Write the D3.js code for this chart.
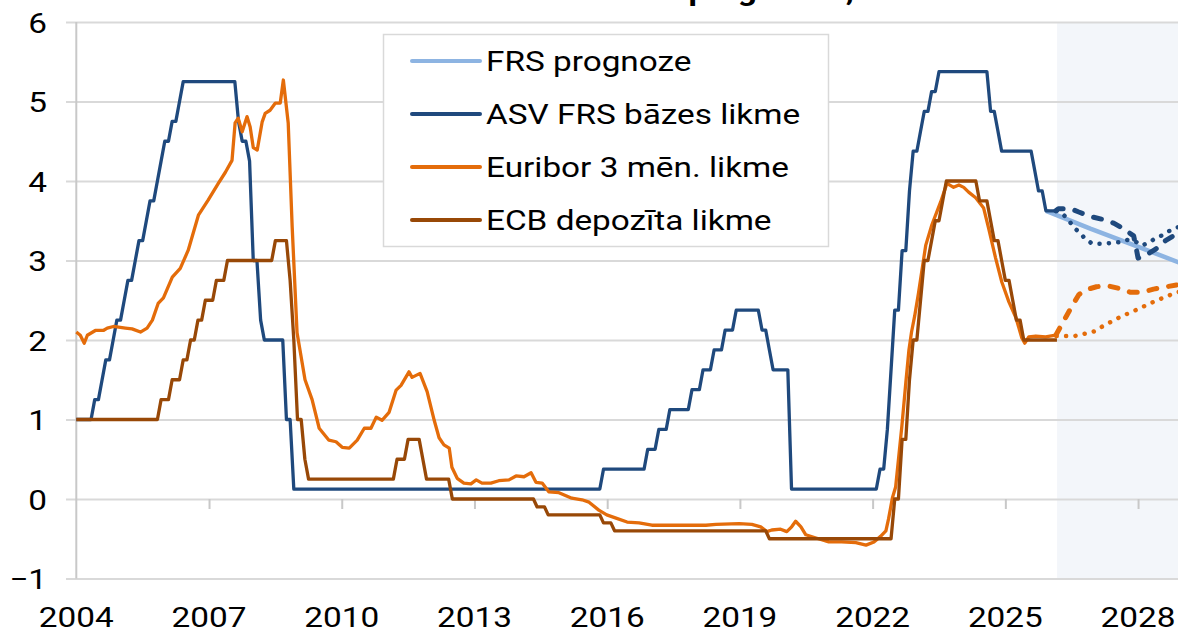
<!DOCTYPE html>
<html>
<head>
<meta charset="utf-8">
<script src="https://cdn.jsdelivr.net/npm/d3@7"></script>
<style>
  body { margin: 0; background: #fff; }
  svg text { font-family: Roboto, "Noto Sans", sans-serif; fill: #000; }
</style>
</head>
<body>
<svg class="graph" width="1178" height="635"></svg>
<script>
// ---- data ----
const yTicks = [-1, 0, 1, 2, 3, 4, 5, 6];
const xTicks = [2004, 2007, 2010, 2013, 2016, 2019, 2022, 2025, 2028];
const titleText = 'Procentu likmes un to prognozes, %';
const forecastStart = 2026.17;

// US Fed target rate (midpoint), month of change -> new level
const fedChanges = [
  ['2004-01', 1.0], ['2004-06', 1.25], ['2004-08', 1.5], ['2004-09', 1.75], ['2004-11', 2.0], ['2004-12', 2.25],
  ['2005-02', 2.5], ['2005-03', 2.75], ['2005-05', 3.0], ['2005-06', 3.25], ['2005-08', 3.5], ['2005-09', 3.75],
  ['2005-11', 4.0], ['2005-12', 4.25], ['2006-01', 4.5], ['2006-03', 4.75], ['2006-05', 5.0], ['2006-06', 5.25],
  ['2007-09', 4.75], ['2007-10', 4.5], ['2007-12', 4.25], ['2008-01', 3.0], ['2008-03', 2.25], ['2008-04', 2.0],
  ['2008-10', 1.0], ['2008-12', 0.125], ['2015-12', 0.375], ['2016-12', 0.625], ['2017-03', 0.875], ['2017-06', 1.125],
  ['2017-12', 1.375], ['2018-03', 1.625], ['2018-06', 1.875], ['2018-09', 2.125], ['2018-12', 2.375], ['2019-07', 2.125],
  ['2019-09', 1.875], ['2019-10', 1.625], ['2020-03', 0.125], ['2022-03', 0.375], ['2022-05', 0.875], ['2022-06', 1.625],
  ['2022-07', 2.375], ['2022-09', 3.125], ['2022-11', 3.875], ['2022-12', 4.375], ['2023-02', 4.625], ['2023-03', 4.875],
  ['2023-05', 5.125], ['2023-07', 5.375], ['2024-09', 4.875], ['2024-11', 4.625], ['2024-12', 4.375], ['2025-09', 4.125],
  ['2025-10', 3.875], ['2025-12', 3.625]
];

// ECB deposit facility rate, month of change -> new level
const ecbChanges = [
  ['2004-01', 1.0], ['2005-12', 1.25], ['2006-03', 1.5], ['2006-06', 1.75], ['2006-08', 2.0], ['2006-10', 2.25],
  ['2006-12', 2.5], ['2007-03', 2.75], ['2007-06', 3.0], ['2008-07', 3.25], ['2008-11', 2.75], ['2008-12', 2.0],
  ['2009-01', 1.0], ['2009-03', 0.5], ['2009-04', 0.25], ['2011-04', 0.5], ['2011-07', 0.75], ['2011-11', 0.5],
  ['2011-12', 0.25], ['2012-07', 0.0], ['2014-06', -0.1], ['2014-09', -0.2], ['2015-12', -0.3], ['2016-03', -0.4],
  ['2019-09', -0.5], ['2022-07', 0.0], ['2022-09', 0.75], ['2022-11', 1.5], ['2022-12', 2.0], ['2023-02', 2.5],
  ['2023-03', 3.0], ['2023-05', 3.25], ['2023-06', 3.5], ['2023-08', 3.75], ['2023-09', 4.0], ['2024-06', 3.75],
  ['2024-09', 3.5], ['2024-10', 3.25], ['2024-12', 3.0], ['2025-01', 2.75], ['2025-03', 2.5], ['2025-04', 2.25],
  ['2025-06', 2.0]
];
const stepEnd = '2026-03';

// Euribor 3M, [year, %]
const euribor = [
  [2004.00, 2.10], [2004.09, 2.06], [2004.18, 1.96], [2004.25, 2.06], [2004.43, 2.12], [2004.61, 2.12], [2004.70, 2.15],
  [2004.84, 2.17], [2005.11, 2.15], [2005.26, 2.14], [2005.45, 2.10], [2005.60, 2.15], [2005.72, 2.25], [2005.85, 2.46],
  [2005.97, 2.53], [2006.17, 2.79], [2006.35, 2.90], [2006.53, 3.13], [2006.76, 3.57], [2006.98, 3.76], [2007.21, 3.97],
  [2007.37, 4.11], [2007.52, 4.26], [2007.59, 4.73], [2007.66, 4.79], [2007.75, 4.62], [2007.86, 4.81], [2007.93, 4.68],
  [2008.00, 4.42], [2008.09, 4.39], [2008.20, 4.74], [2008.27, 4.85], [2008.38, 4.89], [2008.50, 4.98], [2008.61, 4.98],
  [2008.68, 5.27], [2008.79, 4.73], [2008.88, 3.42], [2008.99, 2.09], [2009.17, 1.50], [2009.33, 1.25], [2009.49, 0.89],
  [2009.71, 0.74], [2009.87, 0.72], [2010.01, 0.65], [2010.17, 0.64], [2010.35, 0.74], [2010.51, 0.89], [2010.66, 0.89],
  [2010.78, 1.03], [2010.91, 0.99], [2011.07, 1.09], [2011.23, 1.37], [2011.34, 1.43], [2011.52, 1.60], [2011.59, 1.53],
  [2011.77, 1.58], [2011.93, 1.35], [2012.09, 0.99], [2012.20, 0.77], [2012.31, 0.68], [2012.43, 0.64], [2012.49, 0.40],
  [2012.61, 0.26], [2012.76, 0.20], [2012.92, 0.19], [2013.04, 0.24], [2013.17, 0.20], [2013.37, 0.20], [2013.55, 0.23],
  [2013.78, 0.24], [2013.94, 0.29], [2014.12, 0.28], [2014.28, 0.33], [2014.39, 0.21], [2014.53, 0.20], [2014.68, 0.09],
  [2014.91, 0.08], [2015.20, 0.01], [2015.43, -0.01], [2015.59, -0.04], [2015.81, -0.14], [2015.99, -0.20], [2016.20, -0.24],
  [2016.45, -0.29], [2016.72, -0.30], [2017.01, -0.33], [2018.23, -0.33], [2018.46, -0.32], [2018.98, -0.31], [2019.27, -0.32],
  [2019.47, -0.35], [2019.61, -0.41], [2019.72, -0.39], [2019.92, -0.38], [2020.06, -0.41], [2020.17, -0.35], [2020.26, -0.28],
  [2020.38, -0.35], [2020.49, -0.45], [2020.72, -0.49], [2021.01, -0.54], [2021.30, -0.54], [2021.62, -0.55], [2021.85, -0.58],
  [2022.03, -0.54], [2022.18, -0.47], [2022.30, -0.40], [2022.36, -0.25], [2022.45, 0.02], [2022.52, 0.15], [2022.66, 0.91],
  [2022.75, 1.46], [2022.82, 1.87], [2022.88, 2.10], [2022.95, 2.30], [2023.04, 2.60], [2023.20, 3.19], [2023.34, 3.45],
  [2023.54, 3.74], [2023.68, 3.97], [2023.83, 3.92], [2023.95, 3.95], [2024.06, 3.92], [2024.17, 3.86], [2024.33, 3.79],
  [2024.51, 3.66], [2024.62, 3.41], [2024.78, 3.03], [2024.92, 2.73], [2025.08, 2.48], [2025.24, 2.28], [2025.37, 2.03],
  [2025.44, 1.96], [2025.53, 2.04], [2025.69, 2.05], [2025.91, 2.04], [2026.14, 2.06]
];

// forecasts
const frsForecast = [[2025.92, 3.625], [2026.92, 3.40], [2027.92, 3.19], [2028.95, 2.97]];
const fedDashed = [
  [2026.14, 3.625], [2026.20, 3.65], [2026.48, 3.65], [2026.66, 3.61], [2026.95, 3.55], [2027.18, 3.52], [2027.45, 3.47],
  [2027.67, 3.40], [2027.90, 3.31], [2027.96, 3.15], [2028.00, 3.03], [2028.19, 3.07], [2028.39, 3.14], [2028.62, 3.25],
  [2028.95, 3.36]
];
const fedDotted = [
  [2026.16, 3.625], [2026.27, 3.60], [2026.43, 3.51], [2026.54, 3.42], [2026.68, 3.35], [2026.81, 3.27], [2026.97, 3.21],
  [2027.17, 3.21], [2027.38, 3.22], [2027.56, 3.23], [2027.74, 3.26], [2027.94, 3.24], [2028.08, 3.19], [2028.24, 3.22],
  [2028.39, 3.28], [2028.56, 3.32], [2028.70, 3.37], [2028.95, 3.43]
];
const euriborDashed = [
  [2026.14, 2.06], [2026.36, 2.28], [2026.48, 2.40], [2026.66, 2.57], [2026.81, 2.63], [2027.06, 2.67], [2027.33, 2.68],
  [2027.56, 2.65], [2027.83, 2.60], [2028.08, 2.60], [2028.35, 2.64], [2028.64, 2.67], [2028.95, 2.70]
];
const euriborDotted = [
  [2026.16, 2.05], [2026.36, 2.05], [2026.57, 2.05], [2026.81, 2.08], [2027.02, 2.11], [2027.22, 2.18], [2027.43, 2.24],
  [2027.63, 2.30], [2027.85, 2.35], [2028.08, 2.41], [2028.31, 2.47], [2028.52, 2.52], [2028.74, 2.57], [2028.95, 2.61]
];

const legendLabels = ['FRS prognoze', 'ASV FRS bāzes likme', 'Euribor 3 mēn. likme', 'ECB depozīta likme'];

// ---- styles ----
const colors = { frs: '#8db4e2', fed: '#1f497d', eur: '#e46c0a', ecb: '#984807' };
const sx = 1.19; // horizontal text stretch of the original

// ---- helpers ----
const ym = s => { const [yy, mm] = s.split('-').map(Number); return yy + (mm - 1) / 12; };
// each change takes one month to get from old to new level
function stepPoints(changes, end) {
  const pts = [];
  changes.forEach(([d, v], i) => {
    const t = ym(d);
    if (i > 0) pts.push([t - 1 / 12, changes[i - 1][1]]);
    pts.push([t, v]);
  });
  pts.push([ym(end), changes[changes.length - 1][1]]);
  return pts;
}

// ---- chart ----
const W = 1178, H = 635;
const svg = d3.select('svg.graph');
const x = d3.scaleLinear().domain([2004, 2029]).range([76.3, 1182.3]);
const y = d3.scaleLinear().domain([-1, 6]).range([578.5, 22]);
const gridLeft = 66;

// forecast shading
svg.append('rect')
  .attr('x', x(forecastStart)).attr('y', y(6))
  .attr('width', x.range()[1] - x(forecastStart)).attr('height', y(-1) - y(6))
  .attr('fill', '#f3f6fa');

// y grid + labels
const yAxis = svg.append('g')
  .attr('transform', `translate(${gridLeft},0)`)
  .call(d3.axisLeft(y).tickValues(yTicks).tickSize(-(x.range()[1] - gridLeft)).tickFormat(d3.format('d')));
yAxis.select('.domain').remove();
yAxis.selectAll('.tick line').attr('stroke', '#d9d9d9').attr('stroke-width', 2);
yAxis.selectAll('.tick text')
  .attr('x', 0).attr('dy', null)
  .attr('transform', `translate(-19,10) scale(${sx},1)`)
  .attr('font-size', 28).attr('fill', '#000');

// vertical axis line
svg.append('line')
  .attr('x1', x(2004)).attr('x2', x(2004))
  .attr('y1', y(6)).attr('y2', y(-1))
  .attr('stroke', '#c8c8c8').attr('stroke-width', 2);

// x ticks hanging from the zero line
const xAxis = svg.append('g')
  .attr('transform', `translate(0,${y(0)})`)
  .call(d3.axisBottom(x).tickValues(xTicks.slice(1)).tickSize(10).tickFormat(''));
xAxis.select('.domain').remove();
xAxis.selectAll('.tick line').attr('stroke', '#c8c8c8').attr('stroke-width', 2);

// x labels below the plot
svg.append('g').selectAll('text')
  .data(xTicks)
  .join('text')
  .attr('text-anchor', 'middle')
  .attr('font-size', 28)
  .attr('transform', d => `translate(${x(d)},627) scale(${sx},1)`)
  .text(d => d);

// title (mostly above the visible frame, as in the original crop)
svg.append('text')
  .attr('text-anchor', 'middle')
  .attr('font-size', 28).attr('font-weight', 'bold')
  .attr('transform', `translate(620,0) scale(${sx},1)`)
  .text(titleText);

// ---- series ----
const line = d3.line().x(d => x(d[0])).y(d => y(d[1]));
const plot = svg.append('g').attr('fill', 'none').attr('stroke-linejoin', 'round');

plot.append('path').attr('d', line(frsForecast))
  .attr('stroke', colors.frs).attr('stroke-width', 4.5);
plot.append('path').attr('d', line(stepPoints(fedChanges, stepEnd)))
  .attr('stroke', colors.fed).attr('stroke-width', 3.3);
plot.append('path').attr('d', line(euribor))
  .attr('stroke', colors.eur).attr('stroke-width', 3.3);
plot.append('path').attr('d', line(stepPoints(ecbChanges, stepEnd)))
  .attr('stroke', colors.ecb).attr('stroke-width', 3.3);

const dashed = [[fedDashed, colors.fed], [euriborDashed, colors.eur]];
const dotted = [[fedDotted, colors.fed], [euriborDotted, colors.eur]];
dotted.forEach(([data, c]) => plot.append('path').attr('d', line(data))
  .attr('stroke', c).attr('stroke-width', 4.5).attr('stroke-linecap', 'round')
  .attr('stroke-dasharray', '0.1 9.3'));
dashed.forEach(([data, c]) => plot.append('path').attr('d', line(data))
  .attr('stroke', c).attr('stroke-width', 5).attr('stroke-linecap', 'round')
  .attr('stroke-dasharray', '8 12'));

// ---- legend ----
const legendColors = [colors.frs, colors.fed, colors.eur, colors.ecb];
const legend = svg.append('g');
legend.append('rect')
  .attr('x', 383.5).attr('y', 34.5).attr('width', 445).attr('height', 212)
  .attr('fill', '#fff').attr('stroke', '#d9d9d9').attr('stroke-width', 1.5);
const items = legend.selectAll('g.item')
  .data(legendLabels)
  .join('g').attr('class', 'item')
  .attr('transform', (d, i) => `translate(412,${61 + i * 53})`);
items.append('line')
  .attr('x1', 0).attr('x2', 68)
  .attr('stroke', (d, i) => legendColors[i])
  .attr('stroke-width', 4).attr('stroke-linecap', 'round');
items.append('text')
  .attr('font-size', 28)
  .attr('transform', `translate(74,10) scale(${sx},1)`)
  .text(d => d);
</script>
</body>
</html>
